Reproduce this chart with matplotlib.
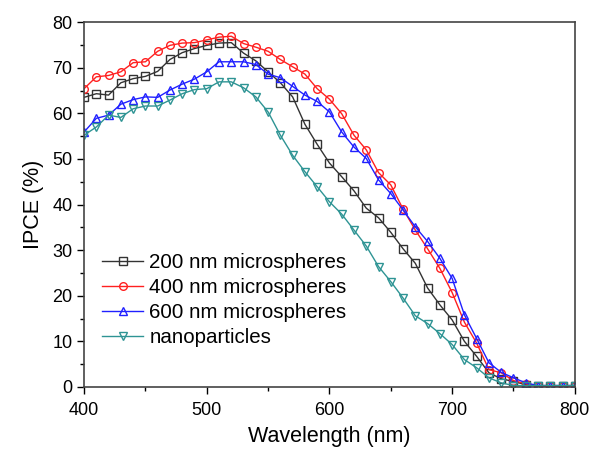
import matplotlib.pyplot as plt
import numpy as np

plt.rcParams['font.family'] = ['Liberation Sans', 'DejaVu Sans']

wavelength = np.arange(400, 801, 10)

ipce_200 = [63.5, 64.3, 64.0, 66.7, 67.6, 68.1, 69.2, 71.8, 73.3, 74.2,
            74.9, 75.4, 75.5, 73.2, 71.5, 69.1, 66.7, 63.6, 57.6, 53.2,
            49.1, 46.1, 43.0, 39.2, 37.1, 33.9, 30.3, 27.1, 21.7, 18.0,
            14.7, 10.0, 6.7, 3.1, 1.8, 1.2, 0.5, 0.3, 0.3, 0.3, 0.3]
ipce_400 = [65.4, 68.0, 68.3, 69.1, 71.1, 71.3, 73.6, 74.9, 75.4, 75.5,
            76.1, 76.7, 76.9, 75.3, 74.5, 73.6, 71.8, 70.2, 68.6, 65.4,
            63.1, 59.9, 55.2, 52.0, 47.0, 44.3, 39.0, 34.4, 30.3, 26.0,
            20.7, 14.2, 9.6, 3.8, 3.1, 1.4, 0.7, 0.2, 0.2, 0.2, 0.3]
ipce_600 = [55.9, 58.9, 59.6, 62.0, 63.0, 63.6, 63.5, 65.1, 66.4, 67.5,
            69.1, 71.3, 71.3, 71.3, 70.7, 68.6, 67.8, 65.9, 64.0, 62.6,
            60.3, 55.9, 52.6, 50.1, 45.4, 42.4, 38.8, 35.1, 31.9, 28.2,
            23.8, 15.8, 10.6, 5.3, 3.2, 2.0, 0.9, 0.3, 0.3, 0.3, 0.3]
ipce_nano = [55.2, 57.0, 59.6, 59.1, 61.0, 61.6, 61.6, 62.9, 64.3, 65.2,
             65.4, 66.9, 66.9, 65.6, 63.6, 60.3, 55.2, 50.8, 47.2, 43.9,
             40.6, 37.9, 34.4, 30.9, 26.4, 23.1, 19.5, 15.6, 13.9, 11.7,
             9.3, 6.0, 4.2, 2.0, 0.9, 0.3, 0.3, 0.3, 0.3, 0.3, 0.3]

labels = ['200 nm microspheres', '400 nm microspheres',
          '600 nm microspheres', 'nanoparticles']

fig = plt.figure(figsize=(5.92, 4.51), dpi=100)
ax = fig.add_axes([0.142, 0.142, 0.829, 0.809])

style = dict(lw=1.0, mfc='none', mew=1.0, ms=5.5)
ax.plot(wavelength, ipce_200, color='#333333', marker='s', label=labels[0], **style)
ax.plot(wavelength, ipce_400, color='#ff2020', marker='o', label=labels[1], **style)
ax.plot(wavelength, ipce_600, color='#2020ff', marker='^', label=labels[2], **style)
ax.plot(wavelength, ipce_nano, color='#2e9494', marker='v', label=labels[3], **style)

ax.set_xlim(400, 800)
ax.set_ylim(0, 80)
ax.set_xticks(range(400, 801, 100))
ax.set_xticks(range(450, 800, 100), minor=True)
ax.set_yticks(range(0, 81, 10))
ax.set_yticks(range(5, 80, 10), minor=True)
ax.tick_params(which='major', direction='out', length=5, width=1, labelsize=13)
ax.tick_params(axis='x', which='major', pad=6)
ax.tick_params(which='minor', direction='out', length=3, width=1)
for s in ax.spines.values():
    s.set_color('#444444')
    s.set_linewidth(1.2)

ax.set_xlabel('Wavelength (nm)', fontsize=15.5, labelpad=5)
ax.set_ylabel('IPCE (%)', fontsize=15.5, labelpad=6)

ax.legend(loc='lower left', bbox_to_anchor=(0.02, 0.086), frameon=False,
          fontsize=14.8, handlelength=2.0, handletextpad=0.3, labelspacing=0.3,
          borderaxespad=0)

fig.savefig('out.png', dpi=100)
